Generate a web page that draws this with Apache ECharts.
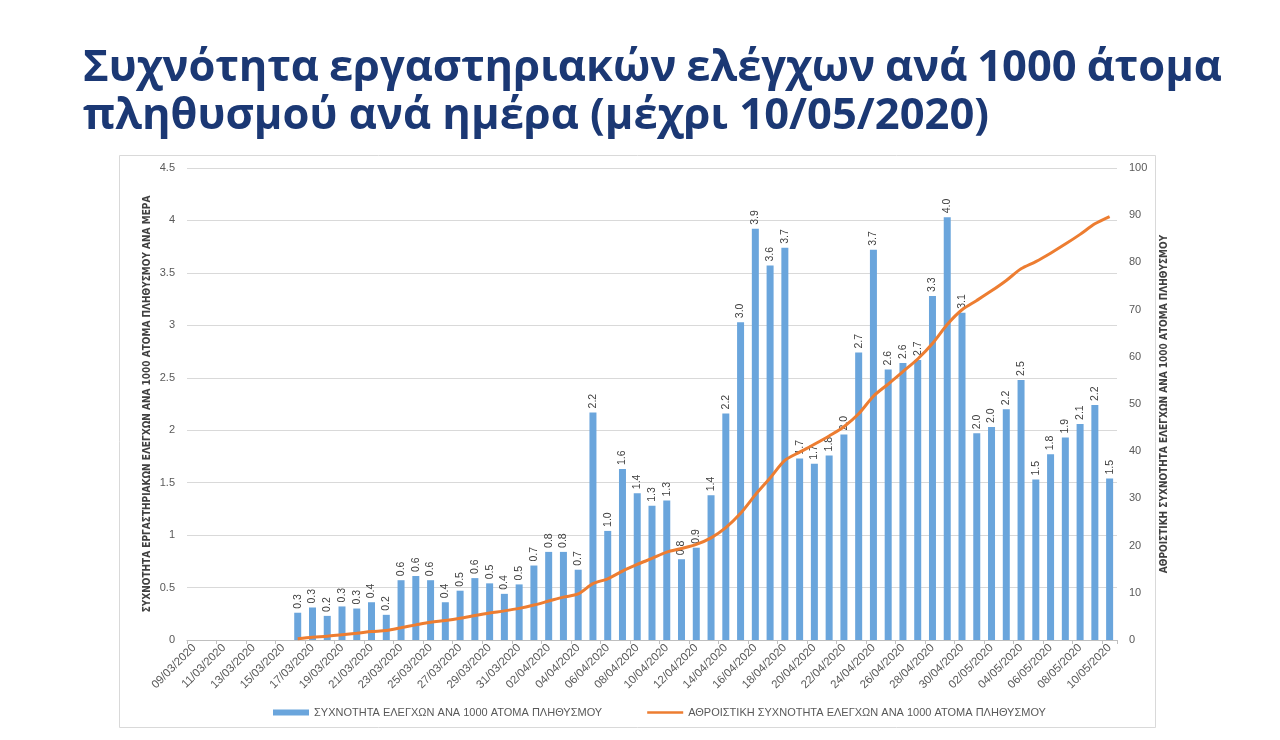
<!DOCTYPE html>
<html>
<head>
<meta charset="utf-8">
<script src="https://cdn.jsdelivr.net/npm/echarts@6/dist/echarts.min.js"></script>
<style>
  html, body { margin: 0; padding: 0; background: #fff; }
  #chart { width: 1280px; height: 740px; }
</style>
</head>
<body>
<div id="chart"></div>
<script>
const titleLine1 = 'Συχνότητα εργαστηριακών ελέγχων ανά 1000 άτομα'
const titleLine2 = 'πληθυσμού ανά ημέρα (μέχρι 10/05/2020)'

const dates = [
  '09/03/2020', '10/03/2020', '11/03/2020', '12/03/2020', '13/03/2020', '14/03/2020', '15/03/2020',
  '16/03/2020', '17/03/2020', '18/03/2020', '19/03/2020', '20/03/2020', '21/03/2020', '22/03/2020',
  '23/03/2020', '24/03/2020', '25/03/2020', '26/03/2020', '27/03/2020', '28/03/2020', '29/03/2020',
  '30/03/2020', '31/03/2020', '01/04/2020', '02/04/2020', '03/04/2020', '04/04/2020', '05/04/2020',
  '06/04/2020', '07/04/2020', '08/04/2020', '09/04/2020', '10/04/2020', '11/04/2020', '12/04/2020',
  '13/04/2020', '14/04/2020', '15/04/2020', '16/04/2020', '17/04/2020', '18/04/2020', '19/04/2020',
  '20/04/2020', '21/04/2020', '22/04/2020', '23/04/2020', '24/04/2020', '25/04/2020', '26/04/2020',
  '27/04/2020', '28/04/2020', '29/04/2020', '30/04/2020', '01/05/2020', '02/05/2020', '03/05/2020',
  '04/05/2020', '05/05/2020', '06/05/2020', '07/05/2020', '08/05/2020', '09/05/2020', '10/05/2020'
]

// tests per 1000 people per day (no data before 16/03)
const dailyRate = [
  null, null, null, null, null, null, null,
  0.26, 0.31, 0.23, 0.32, 0.30, 0.36, 0.24,
  0.57, 0.61, 0.57, 0.36, 0.47, 0.59, 0.54,
  0.44, 0.53, 0.71, 0.84, 0.84, 0.67, 2.17,
  1.04, 1.63, 1.40, 1.28, 1.33, 0.77, 0.88,
  1.38, 2.16, 3.03, 3.92, 3.57, 3.74, 1.73,
  1.68, 1.76, 1.96, 2.74, 3.72, 2.58, 2.64,
  2.67, 3.28, 4.03, 3.12, 1.97, 2.03, 2.20,
  2.48, 1.53, 1.77, 1.93, 2.06, 2.24, 1.54
]

// cumulative tests per 1000 people
const cumulativeRate = [
  null, null, null, null, null, null, null,
  0.26, 0.57, 0.80, 1.12, 1.42, 1.78, 2.02,
  2.59, 3.20, 3.77, 4.13, 4.60, 5.19, 5.73,
  6.17, 6.70, 7.41, 8.25, 9.09, 9.76, 11.93,
  12.97, 14.60, 16.00, 17.28, 18.61, 19.38, 20.26,
  21.64, 23.80, 26.83, 30.75, 34.32, 38.06, 39.79,
  41.47, 43.23, 45.19, 47.93, 51.65, 54.23, 56.87,
  59.54, 62.82, 66.85, 69.97, 71.94, 73.97, 76.17,
  78.65, 80.18, 81.95, 83.88, 85.94, 88.18, 89.72
]

const barName = 'ΣΥΧΝΟΤΗΤΑ ΕΛΕΓΧΩΝ ΑΝΑ 1000 ΑΤΟΜΑ ΠΛΗΘΥΣΜΟΥ'
const lineName = 'ΑΘΡΟΙΣΤΙΚΗ ΣΥΧΝΟΤΗΤΑ ΕΛΕΓΧΩΝ ΑΝΑ 1000 ΑΤΟΜΑ ΠΛΗΘΥΣΜΟΥ'
const leftAxisName = 'ΣΥΧΝΟΤΗΤΑ ΕΡΓΑΣΤΗΡΙΑΚΩΝ ΕΛΕΓΧΩΝ ΑΝΑ 1000 ΑΤΟΜΑ ΠΛΗΘΥΣΜΟΥ ΑΝΑ ΜΕΡΑ'
const rightAxisName = 'ΑΘΡΟΙΣΤΙΚΗ ΣΥΧΝΟΤΗΤΑ ΕΛΕΓΧΩΝ ΑΝΑ 1000 ΑΤΟΜΑ ΠΛΗΘΥΣΜΟΥ'

const titleColor = '#1b3874'
const titleFamily = '"Open Sans", "Noto Sans", sans-serif'
const axisFont = '"Liberation Sans Narrow", "DejaVu Sans Condensed", sans-serif'
const textFont = '"Liberation Sans", sans-serif'

// justified title: first line spread over the full width, second line left aligned
const ctx = document.createElement('canvas').getContext('2d')
const titleLeft = 83
const titleRight = 1222
let titleSize = 42
ctx.font = `bold ${titleSize}px ${titleFamily}`
const w2 = ctx.measureText(titleLine2).width
titleSize = Math.round(titleSize * 907 / w2 * 10) / 10
ctx.font = `bold ${titleSize}px ${titleFamily}`

const words = titleLine1.split(' ')
const wordWidths = words.map(w => ctx.measureText(w).width)
const gap = (titleRight - titleLeft - wordWidths.reduce((a, b) => a + b, 0)) / (words.length - 1)
const titleGraphics = []
let cx = titleLeft
words.forEach((w, i) => {
  titleGraphics.push({
    type: 'text', left: cx, top: 47,
    style: { text: w, fill: titleColor, font: `bold ${titleSize}px ${titleFamily}` }
  })
  cx += wordWidths[i] + gap
})
titleGraphics.push({
  type: 'text', left: titleLeft, top: 95,
  style: { text: titleLine2, fill: titleColor, font: `bold ${titleSize}px ${titleFamily}` }
})

const chart = echarts.init(document.getElementById('chart'))

const option = {
  backgroundColor: '#fff',
  animation: false,
  graphic: [
    {
      type: 'rect', left: 119, top: 155, z: -1,
      shape: { width: 1036, height: 572 },
      style: { fill: '#fff', stroke: '#d9d9d9', lineWidth: 1 }
    },
    ...titleGraphics
  ],
  grid: { left: 187, right: 163, top: 168, bottom: 100 },
  legend: {
    bottom: 17,
    left: 268,
    itemGap: 45,
    itemWidth: 36,
    itemHeight: 6,
    textStyle: { color: '#595959', fontSize: 11, fontFamily: textFont },
    data: [
      { name: barName, icon: 'rect' },
      { name: lineName, icon: 'path://M0,0H40V3H0Z' }
    ]
  },
  xAxis: {
    type: 'category',
    data: dates,
    boundaryGap: true,
    axisLine: { lineStyle: { color: '#bfbfbf' } },
    axisTick: { show: true, interval: 1, length: 4, lineStyle: { color: '#bfbfbf' } },
    axisLabel: {
      interval: 1,
      rotate: 45,
      color: '#595959',
      fontSize: 11.5,
      fontFamily: textFont,
      margin: 6
    }
  },
  yAxis: [
    {
      type: 'value',
      min: 0, max: 4.5, interval: 0.5,
      name: leftAxisName,
      nameLocation: 'middle',
      nameRotate: 90,
      nameGap: 35,
      nameMoveOverlap: false,
      nameTextStyle: { color: '#404040', fontSize: 10, fontWeight: 'bold', fontFamily: axisFont },
      axisLine: { show: false },
      axisTick: { show: false },
      axisLabel: { color: '#595959', fontSize: 11, fontFamily: textFont, margin: 12 },
      splitLine: { lineStyle: { color: '#d9d9d9' } }
    },
    {
      type: 'value',
      min: 0, max: 100, interval: 10,
      name: rightAxisName,
      nameLocation: 'middle',
      nameRotate: 90,
      nameGap: 42,
      nameTextStyle: { color: '#404040', fontSize: 10, fontWeight: 'bold', fontFamily: axisFont },
      axisLine: { show: false },
      axisTick: { show: false },
      axisLabel: { color: '#595959', fontSize: 11, fontFamily: textFont, margin: 12 },
      splitLine: { show: false }
    }
  ],
  series: [
    {
      name: barName,
      type: 'bar',
      yAxisIndex: 0,
      data: dailyRate,
      barWidth: 7,
      itemStyle: { color: '#6aa5dc' },
      label: {
        show: true,
        position: 'top',
        rotate: 90,
        align: 'left',
        verticalAlign: 'middle',
        distance: 4,
        color: '#404040',
        fontSize: 10.5,
        fontFamily: textFont,
        formatter: p => p.value == null ? '' : p.value.toFixed(1)
      }
    },
    {
      name: lineName,
      type: 'line',
      yAxisIndex: 1,
      data: cumulativeRate,
      smooth: 0.3,
      symbol: 'none',
      lineStyle: { color: '#ed7d31', width: 3 },
      itemStyle: { color: '#ed7d31' },
      z: 3
    }
  ]
}

chart.setOption(option)
</script>
</body>
</html>
